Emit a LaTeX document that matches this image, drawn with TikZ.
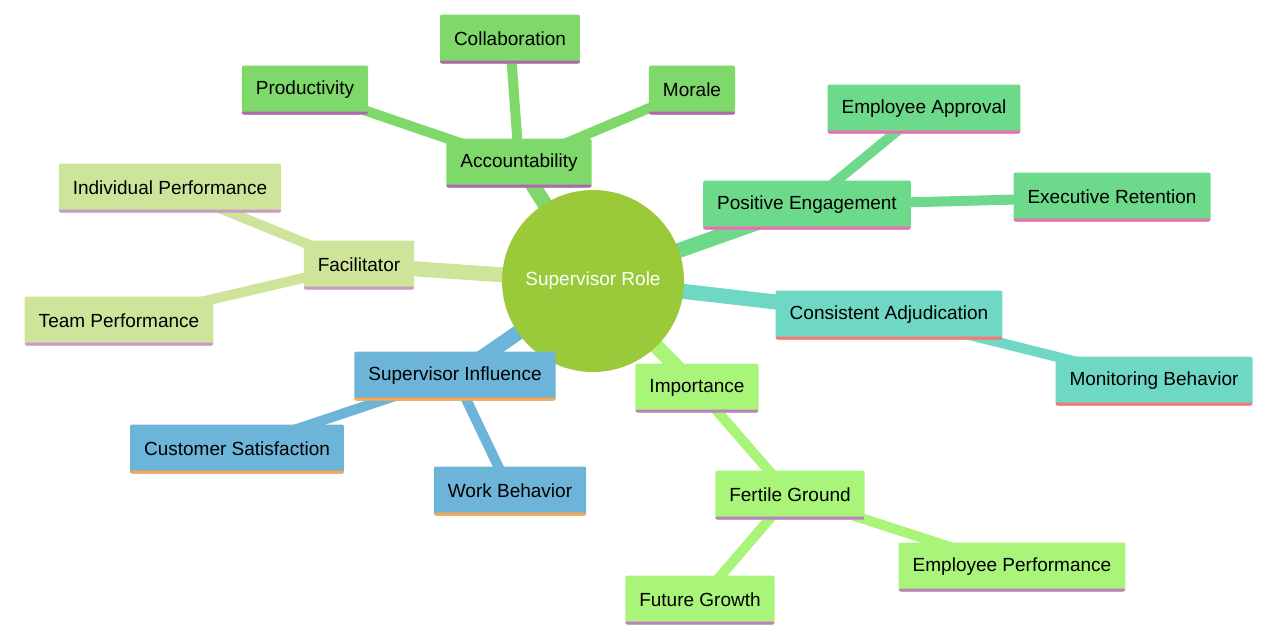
\documentclass[tikz,border=0pt]{standalone}
\usepackage{fontspec}
\setmainfont{Liberation Sans}
\usetikzlibrary{positioning,backgrounds}
\definecolor{accG}{HTML}{7ED86A}
\definecolor{posG}{HTML}{6DD98A}
\definecolor{conT}{HTML}{6ED8C4}
\definecolor{impG}{HTML}{A8F57A}
\definecolor{supB}{HTML}{6CB4D8}
\definecolor{facY}{HTML}{CDE49A}
\definecolor{rootG}{HTML}{9ACA3A}
\tikzset{
  idea/.style n args={2}{rectangle, fill=#1, rounded corners=2pt, minimum height=49pt, inner xsep=14pt,
    font=\fontsize{19}{22}\selectfont,
    path picture={\fill[#2] (path picture bounding box.south west) rectangle ([yshift=3pt]path picture bounding box.south east);}},
  link/.style={line width=#1, line cap=round}
}
\begin{document}
\begin{tikzpicture}[x=1pt,y=-1pt]
\useasboundingbox (0,0) rectangle (1280,638);
% root
\node[circle, fill=rootG, minimum size=182pt, text=white, font=\fontsize{19}{22}\selectfont] (root) at (593,281) {Supervisor Role};
% ideas
\node[idea={accG}{violet!60}] (acc) at (519,163) {Accountability};
\node[idea={accG}{violet!60}] (col) at (510,39) {Collaboration};
\node[idea={accG}{violet!60}] (pro) at (305,90) {Productivity};
\node[idea={accG}{violet!60}] (mor) at (692,90) {Morale};
\node[idea={posG}{magenta!60}] (pos) at (807,205) {Positive Engagement};
\node[idea={posG}{magenta!60}] (app) at (924,109) {Employee Approval};
\node[idea={posG}{magenta!60}] (ret) at (1112,197) {Executive Retention};
\node[idea={conT}{red!55}] (con) at (889,315) {Consistent Adjudication};
\node[idea={conT}{red!55}] (mon) at (1154,381) {Monitoring Behavior};
\node[idea={impG}{violet!50}] (imp) at (697,388) {Importance};
\node[idea={impG}{violet!50}] (fer) at (790,495) {Fertile Ground};
\node[idea={impG}{violet!50}] (emp) at (1012,567) {Employee Performance};
\node[idea={impG}{violet!50}] (fut) at (700,600) {Future Growth};
\node[idea={supB}{orange!70}] (sup) at (455,376) {Supervisor Influence};
\node[idea={supB}{orange!70}] (cus) at (237,449) {Customer Satisfaction};
\node[idea={supB}{orange!70}] (wor) at (510,491) {Work Behavior};
\node[idea={facY}{violet!40}] (fac) at (359,265) {Facilitator};
\node[idea={facY}{violet!40}] (ind) at (170,188) {Individual Performance};
\node[idea={facY}{violet!40}] (tea) at (119,321) {Team Performance};
% branches
\begin{scope}[on background layer]
\draw[link=15pt, accG] (root.center) -- (acc.center);
\draw[link=10pt, accG] (acc.center) -- (col.center);
\draw[link=10pt, accG] (acc.center) -- (pro.center);
\draw[link=10pt, accG] (acc.center) -- (mor.center);
\draw[link=15pt, posG] (root.center) -- (pos.center);
\draw[link=10pt, posG] (pos.center) -- (app.center);
\draw[link=10pt, posG] (pos.center) -- (ret.center);
\draw[link=15pt, conT] (root.center) -- (con.center);
\draw[link=10pt, conT] (con.center) -- (mon.center);
\draw[link=15pt, impG] (root.center) -- (imp.center);
\draw[link=10pt, impG] (imp.center) -- (fer.center);
\draw[link=10pt, impG] (fer.center) -- (emp.center);
\draw[link=10pt, impG] (fer.center) -- (fut.center);
\draw[link=15pt, supB] (root.center) -- (sup.center);
\draw[link=10pt, supB] (sup.center) -- (cus.center);
\draw[link=10pt, supB] (sup.center) -- (wor.center);
\draw[link=15pt, facY] (root.center) -- (fac.center);
\draw[link=10pt, facY] (fac.center) -- (ind.center);
\draw[link=10pt, facY] (fac.center) -- (tea.center);
\end{scope}
\end{tikzpicture}
\end{document}
